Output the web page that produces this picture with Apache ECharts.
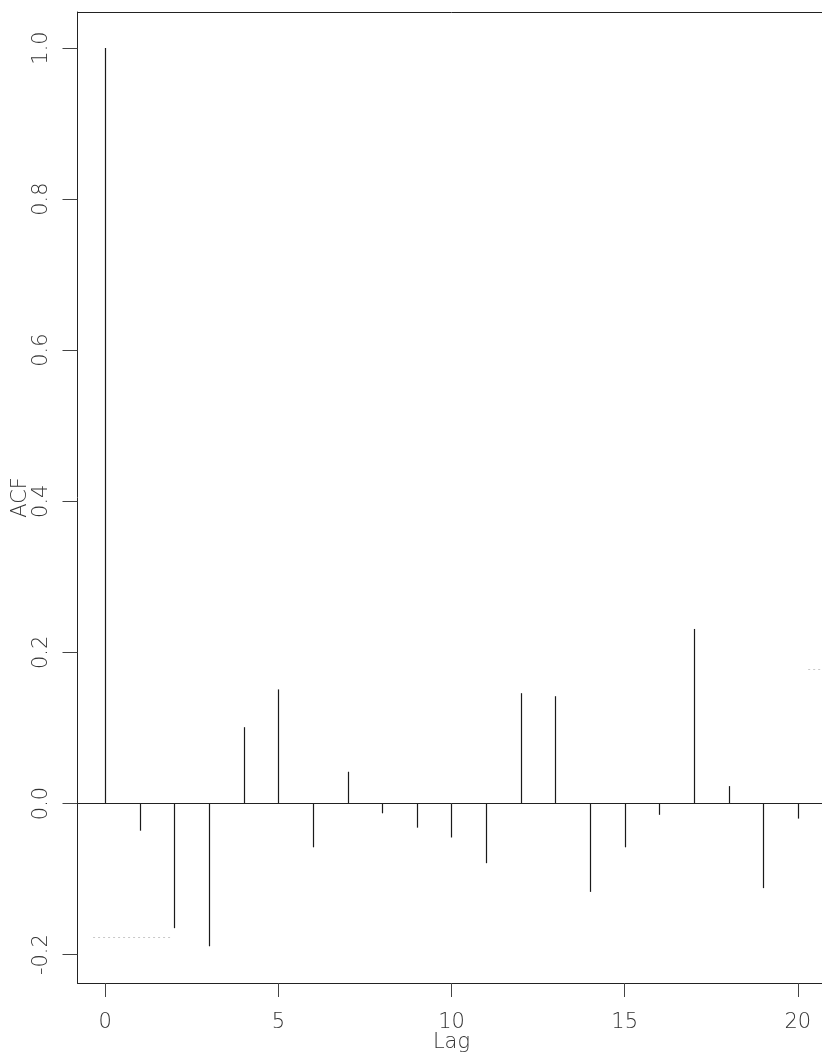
<!DOCTYPE html>
<html>
<head>
<meta charset="utf-8">
<script src="https://cdn.jsdelivr.net/npm/echarts@6/dist/echarts.min.js"></script>
<style>
  html, body { margin: 0; padding: 0; background: #fff; overflow: hidden; }
  #chart { width: 830px; height: 1053px; }
</style>
</head>
<body>
<div id="chart"></div>
<script>
// Sample autocorrelation function, lags 0..20
const lags = [0, 1, 2, 3, 4, 5, 6, 7, 8, 9, 10, 11, 12, 13, 14, 15, 16, 17, 18, 19, 20];
const acf = [1.0, -0.036, -0.165, -0.189, 0.101, 0.151, -0.058, 0.042, -0.013, -0.032,
             -0.045, -0.079, 0.146, 0.142, -0.117, -0.058, -0.015, 0.231, 0.023, -0.112, -0.020];

// Tick positions and labels
const xTicks = [0, 5, 10, 15, 20];
const yTicks = [-0.2, 0.0, 0.2, 0.4, 0.6, 0.8, 1.0];
const yTickLabels = ['-0.2', '0.0', '0.2', '0.4', '0.6', '0.8', '1.0'];

// Axis ranges (data range padded by 4% on each side)
const xRange = [-0.8, 20.8];
const yRange = [-0.2376, 1.0476];

// Faint remnants of the dotted significance bounds
const boundLevel = 0.1775;
const boundPieces = [
  [[-0.35, -boundLevel], [1.95, -boundLevel]],
  [[20.3, boundLevel], [20.8, boundLevel]]
];

const font = { fontFamily: 'DejaVu Sans', fontWeight: 200, fontSize: 21, color: '#333' };

const chart = echarts.init(document.getElementById('chart'), null, { renderer: 'canvas' });

chart.setOption({
  animation: false,
  backgroundColor: '#fff',
  grid: { left: 77.5, top: 12, width: 748, height: 971, containLabel: false, outerBoundsMode: 'none' },
  xAxis: [{
    type: 'value',
    min: xRange[0], max: xRange[1],
    name: 'Lag', nameLocation: 'middle', nameGap: 49, nameMoveOverlap: false,
    nameTextStyle: font,
    axisLine: { show: true, onZero: false, lineStyle: { color: '#222', width: 1 } },
    axisTick: { show: true, length: 14, inside: false, customValues: xTicks, lineStyle: { color: '#444' } },
    axisLabel: { show: true, margin: 29, customValues: xTicks, ...font },
    splitLine: { show: false }
  }, {
    type: 'value', position: 'top',
    min: xRange[0], max: xRange[1],
    axisLine: { show: true, onZero: false, lineStyle: { color: '#222', width: 1 } },
    axisTick: { show: false }, axisLabel: { show: false }, splitLine: { show: false }
  }],
  yAxis: {
    type: 'value',
    min: yRange[0], max: yRange[1],
    name: 'ACF', nameLocation: 'middle', nameGap: 46, nameRotate: 90, nameMoveOverlap: false,
    nameTextStyle: font,
    axisLine: { show: true, onZero: false, lineStyle: { color: '#222', width: 1 } },
    axisTick: { show: true, length: 15, customValues: yTicks, lineStyle: { color: '#444' } },
    axisLabel: {
      show: true, rotate: 90, margin: 25, customValues: yTicks,
      formatter: v => yTickLabels[yTicks.findIndex(t => Math.abs(t - v) < 1e-9)] ?? '',
      ...font
    },
    splitLine: { show: false }
  },
  series: [{
    type: 'custom',
    data: lags.map((l, i) => [l, acf[i]]),
    renderItem: (params, api) => {
      const p0 = api.coord([api.value(0), 0]);
      const p1 = api.coord([api.value(0), api.value(1)]);
      return {
        type: 'line',
        shape: { x1: Math.round(p0[0]) + 0.5, y1: p0[1], x2: Math.round(p1[0]) + 0.5, y2: p1[1] },
        style: { stroke: '#1a1a1a', lineWidth: 1.2 }
      };
    },
    markLine: {
      silent: true, symbol: 'none', label: { show: false },
      data: [
        { yAxis: 0, lineStyle: { color: '#222', width: 1, type: 'solid' } },
        ...boundPieces.map(seg => [
          { coord: seg[0], lineStyle: { color: '#c8c8c8', width: 1, type: [2, 3] } },
          { coord: seg[1] }
        ])
      ]
    }
  }]
});
</script>
</body>
</html>
